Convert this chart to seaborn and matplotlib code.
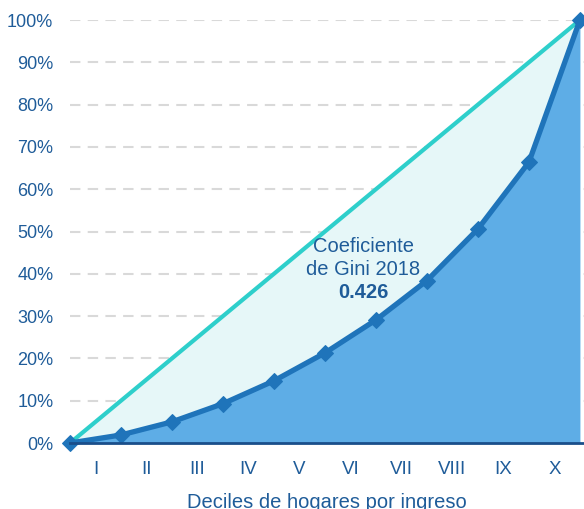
import pandas as pd
import matplotlib.pyplot as plt
import seaborn as sns

# Lorenz curve data (cumulative share of income by decile)
deciles = ["I", "II", "III", "IV", "V", "VI", "VII", "VIII", "IX", "X"]
positions = [0, 1, 2, 3, 4, 5, 6, 7, 8, 9, 10]
cum_share = [0, 1.9, 5.0, 9.3, 14.7, 21.3, 29.1, 38.4, 50.6, 66.4, 100]
equality = [0, 10, 20, 30, 40, 50, 60, 70, 80, 90, 100]
gini_label = "Coeficiente\nde Gini 2018"
gini_value = "0.426"

df = pd.DataFrame({"pos": positions, "share": cum_share, "equal": equality})

text_blue = "#1f5c99"
line_blue = "#1f74ba"
fill_blue = "#5eade6"
light_fill = "#e6f7f8"
teal = "#2ecfcb"

sns.set_style("white")
plt.rcParams["font.family"] = ["Liberation Sans", "DejaVu Sans"]

fig = plt.figure(figsize=(5.84, 5.09), dpi=100)
ax = fig.add_axes([70 / 584, 1 - 443 / 509, 1 - 70 / 584, (443 - 20) / 509])

# Shaded areas
ax.fill_between(df["pos"], df["share"], df["equal"], color=light_fill, lw=0, zorder=1)
ax.fill_between(df["pos"], 0, df["share"], color=fill_blue, lw=0, zorder=2)

# Lines
sns.lineplot(data=df, x="pos", y="equal", color=teal, lw=3, ax=ax, zorder=3)
sns.lineplot(data=df, x="pos", y="share", color=line_blue, lw=3.8, marker="D",
             markersize=8, markeredgecolor=line_blue, ax=ax, zorder=4, clip_on=False)

ax.set_xlim(0, 10.08)
ax.set_ylim(0, 100)

# Grid
for v in range(10, 101, 10):
    ax.axhline(v, color="#d9d9d9", lw=1.5, ls=(0, (5, 3.5)), zorder=0)

# Y axis
ax.set_yticks(range(0, 101, 10))
ax.set_yticklabels([f"{v}%" for v in range(0, 101, 10)])
ax.tick_params(axis="y", length=0, pad=12, labelsize=13, labelcolor=text_blue)

# X axis: major ticks at points, labels between them
ax.set_xticks(positions)
ax.set_xticklabels([])
ax.set_xticks([p + 0.5 for p in positions[:-1]], minor=True)
ax.set_xticklabels(deciles, minor=True)
ax.tick_params(axis="x", which="major", direction="out", length=6, width=1.5,
               color="#1a4e8a")
ax.tick_params(axis="x", which="minor", length=0, pad=13, labelsize=13.5,
               labelcolor=text_blue)

for s in ["top", "right", "left"]:
    ax.spines[s].set_visible(False)
ax.spines["bottom"].set_color("#1a4e8a")
ax.spines["bottom"].set_linewidth(2)
ax.spines["bottom"].set_zorder(5)

ax.set_xlabel("Deciles de hogares por ingreso", fontsize=14.5, color=text_blue, labelpad=11)
ax.set_ylabel("")

# Gini annotation
ax.text(5.75, 43.8, gini_label, ha="center", va="center", fontsize=14.5,
        color=text_blue, linespacing=1.25, zorder=6)
ax.text(5.75, 35.5, gini_value, ha="center", va="center", fontsize=14.5,
        fontweight="bold", color=text_blue, zorder=6)

plt.savefig("out.png", dpi=100)
